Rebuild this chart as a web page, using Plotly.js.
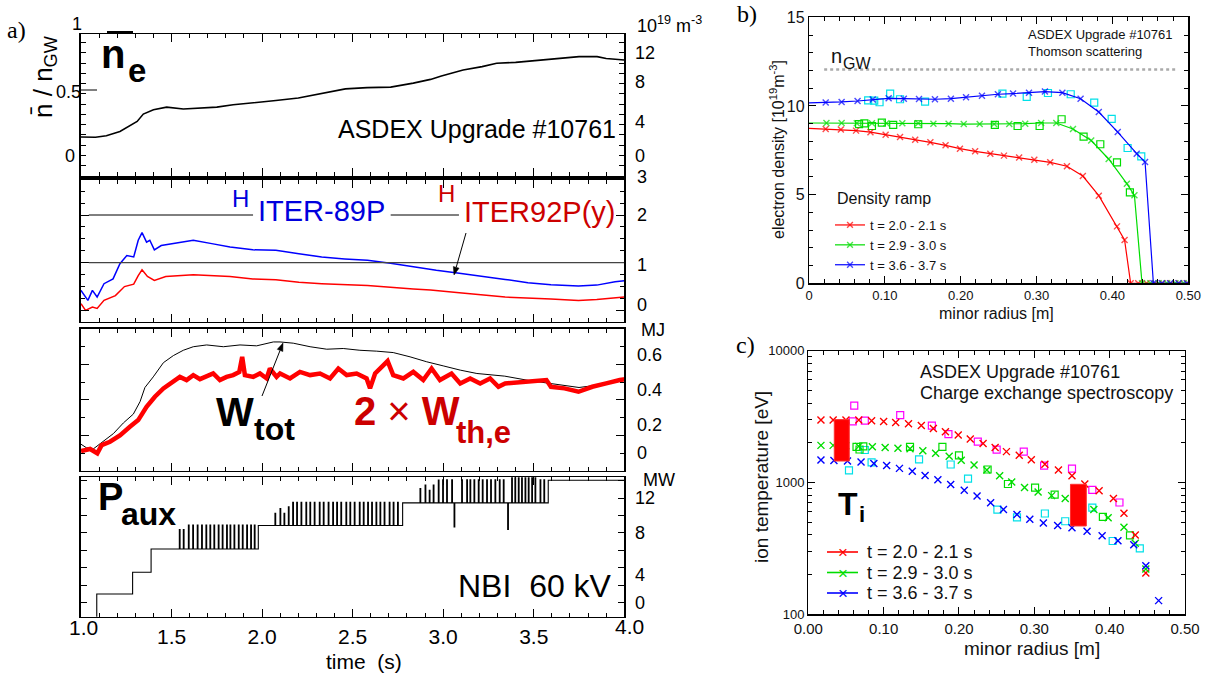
<!DOCTYPE html>
<html><head><meta charset="utf-8">
<script src="https://cdn.plot.ly/plotly-3.0.1.min.js"></script>
<style>html,body{margin:0;padding:0;background:#fff}#chart{width:1215px;height:675px}</style>
</head><body><div id="chart"></div>
<script>
// ================= DATA =================
// Panel a-1: line-averaged density (10^19 m^-3)
const tNe = [1.0, 1.08, 1.14, 1.215, 1.31, 1.344, 1.40, 1.473, 1.565, 1.657, 1.75, 1.84, 1.95, 2.076, 2.20, 2.33, 2.46, 2.58, 2.71, 2.835, 2.93, 2.99, 3.11, 3.215, 3.295, 3.40, 3.48, 3.59, 3.66, 3.75, 3.85, 3.90, 4.0];
const ne  = [2.15, 2.12, 2.3, 2.8, 3.97, 4.83, 5.34, 5.65, 5.42, 5.53, 5.65, 5.92, 6.19, 6.43, 6.71, 7.29, 7.79, 7.94, 7.99, 8.46, 8.9, 9.3, 10.0, 10.4, 10.8, 10.9, 11.06, 11.2, 11.38, 11.57, 11.57, 11.35, 11.18];
// Panel a-2: confinement enhancement factors
const tH89 = [1.0, 1.038, 1.063, 1.089, 1.127, 1.177, 1.215, 1.253, 1.291, 1.316, 1.337, 1.362, 1.38, 1.405, 1.443, 1.519, 1.62, 1.722, 1.823, 1.949, 2.076, 2.203, 2.329, 2.456, 2.582, 2.709, 2.835, 2.962, 3.089, 3.215, 3.342, 3.468, 3.595, 3.747, 3.848, 3.949, 4.0];
const h89  = [0.42, 0.21, 0.42, 0.28, 0.56, 0.66, 0.98, 1.15, 1.12, 1.47, 1.63, 1.43, 1.47, 1.27, 1.36, 1.41, 1.47, 1.40, 1.33, 1.27, 1.26, 1.19, 1.12, 1.08, 1.05, 0.99, 0.91, 0.84, 0.78, 0.72, 0.65, 0.58, 0.54, 0.51, 0.53, 0.60, 0.62];
const tH92 = [1.0, 1.025, 1.063, 1.089, 1.127, 1.19, 1.24, 1.291, 1.316, 1.337, 1.367, 1.405, 1.468, 1.62, 1.823, 1.949, 2.076, 2.203, 2.329, 2.582, 2.835, 2.93, 3.089, 3.342, 3.595, 3.747, 3.848, 4.0];
const h92  = [0.14, 0.0, 0.07, 0.04, 0.21, 0.31, 0.50, 0.55, 0.73, 0.85, 0.71, 0.63, 0.71, 0.75, 0.71, 0.66, 0.64, 0.59, 0.56, 0.52, 0.45, 0.43, 0.37, 0.28, 0.24, 0.21, 0.23, 0.28];
// Panel a-3: stored energies (MJ)
const tWtot = [1.0, 1.03, 1.07, 1.114, 1.179, 1.234, 1.289, 1.326, 1.353, 1.399, 1.455, 1.510, 1.565, 1.620, 1.694, 1.786, 1.878, 1.970, 2.062, 2.099, 2.172, 2.265, 2.357, 2.448, 2.54, 2.633, 2.724, 2.817, 2.909, 3.0, 3.094, 3.186, 3.278, 3.34, 3.47, 3.6, 3.75, 3.9, 4.0];
const wTot  = [0.15, 0.13, 0.125, 0.16, 0.21, 0.27, 0.32, 0.39, 0.47, 0.53, 0.61, 0.65, 0.68, 0.70, 0.71, 0.70, 0.71, 0.705, 0.727, 0.727, 0.72, 0.70, 0.686, 0.69, 0.68, 0.675, 0.667, 0.643, 0.615, 0.592, 0.568, 0.549, 0.54, 0.534, 0.51, 0.49, 0.47, 0.49, 0.51];
const tWth = [1.0, 1.05, 1.09, 1.114, 1.16, 1.215, 1.27, 1.316, 1.362, 1.408, 1.455, 1.51, 1.546, 1.583, 1.62, 1.657, 1.694, 1.73, 1.767, 1.804, 1.84, 1.874, 1.89, 1.905, 1.951, 1.988, 2.025, 2.043, 2.08, 2.099, 2.154, 2.209, 2.265, 2.32, 2.375, 2.421, 2.467, 2.522, 2.577, 2.596, 2.624, 2.693, 2.724, 2.78, 2.835, 2.89, 2.936, 2.982, 3.046, 3.094, 3.149, 3.204, 3.259, 3.305, 3.342, 3.468, 3.57, 3.595, 3.67, 3.747, 3.823, 3.9, 3.975, 4.04];
const wTh2 = [0.112, 0.123, 0.099, 0.145, 0.164, 0.20, 0.248, 0.286, 0.361, 0.418, 0.465, 0.502, 0.53, 0.512, 0.54, 0.517, 0.53, 0.549, 0.512, 0.53, 0.54, 0.558, 0.643, 0.54, 0.53, 0.549, 0.521, 0.577, 0.53, 0.549, 0.521, 0.558, 0.54, 0.549, 0.521, 0.577, 0.54, 0.549, 0.521, 0.465, 0.549, 0.619, 0.54, 0.521, 0.558, 0.512, 0.577, 0.512, 0.549, 0.493, 0.521, 0.493, 0.521, 0.474, 0.493, 0.502, 0.512, 0.474, 0.465, 0.446, 0.474, 0.493, 0.512, 0.521];
// Panel a-4: auxiliary heating power (MW): step levels, modulation pulses, dips
const pStepT = [1.0, 1.087, 1.285, 1.387, 1.979, 2.776, 3.58];
const pStepV = [-2, 1.0, 3.49, 6.16, 8.85, 11.45, 14.05];
const pPulseT = [1.543, 1.565, 1.593, 1.617, 1.642, 1.666, 1.690, 1.712, 1.734, 1.758, 1.780, 1.804, 1.823, 1.845, 1.869, 1.891, 1.915, 1.937, 1.957,
  2.071, 2.099, 2.121, 2.145, 2.169, 2.191, 2.215, 2.242, 2.264, 2.288, 2.316, 2.338, 2.365, 2.390, 2.412, 2.435, 2.463, 2.485, 2.509, 2.537, 2.559, 2.583, 2.605, 2.629, 2.651, 2.674, 2.702, 2.724, 2.748,
  2.872, 2.900, 2.923, 2.945, 2.973, 2.997, 3.019, 3.047, 3.102, 3.130, 3.148, 3.170, 3.194, 3.216, 3.240, 3.262, 3.286, 3.310, 3.332, 3.378, 3.396, 3.415, 3.433, 3.452, 3.470, 3.489, 3.507, 3.535, 3.556];
const pPulseTop = [8.4, 8.4, 8.9, 8.9, 8.9, 8.9, 8.9, 8.9, 8.9, 8.9, 8.9, 8.9, 8.9, 8.9, 8.9, 8.9, 8.9, 8.9, 8.9,
  10.25, 10.8, 10.25, 11.0, 11.5, 11.5, 11.5, 11.5, 11.5, 11.5, 11.5, 11.5, 11.5, 11.5, 11.5, 11.5, 11.5, 11.5, 11.5, 11.5, 11.5, 11.5, 11.5, 11.5, 11.5, 11.5, 11.5, 11.5, 11.5,
  13.1, 13.5, 12.9, 13.5, 14.07, 14.1, 14.1, 14.1, 14.1, 14.1, 14.1, 14.1, 14.1, 14.1, 14.1, 14.1, 14.1, 14.1, 14.1, 14.35, 14.35, 14.35, 14.35, 14.35, 14.35, 14.35, 14.35, 14.1, 14.1];
const pDipT = [3.06, 3.356];
const pDipV = [8.7, 8.4];

// Panel b: Thomson scattering density profiles (10^19 m^-3)
const bRedR = [0, 0.022, 0.042, 0.062, 0.081, 0.101, 0.120, 0.140, 0.160, 0.180, 0.199, 0.219, 0.239, 0.257, 0.277, 0.297, 0.318, 0.340, 0.361, 0.382, 0.406, 0.416, 0.424, 0.434, 0.445, 0.456, 0.466, 0.477, 0.488, 0.499];
const bRedN = [8.74, 8.70, 8.67, 8.61, 8.52, 8.38, 8.25, 8.10, 7.95, 7.78, 7.59, 7.44, 7.31, 7.20, 7.09, 6.97, 6.82, 6.60, 6.05, 4.94, 3.21, 2.44, 0, 0, 0, 0, 0, 0, 0, 0];
const bGreenR = [0, 0.023, 0.043, 0.063, 0.083, 0.102, 0.123, 0.144, 0.164, 0.184, 0.204, 0.225, 0.244, 0.264, 0.285, 0.306, 0.326, 0.348, 0.372, 0.395, 0.419, 0.429, 0.439, 0.45, 0.461, 0.472, 0.483, 0.494];
const bGreenN = [9.04, 9.04, 9.04, 9.02, 9.02, 9.02, 9.02, 9.02, 9.0, 9.0, 8.98, 8.98, 8.98, 8.98, 9.0, 9.04, 9.04, 8.70, 8.05, 7.01, 5.62, 4.96, 0, 0, 0, 0, 0, 0];
const bBlueR = [0, 0.022, 0.043, 0.064, 0.084, 0.105, 0.125, 0.145, 0.166, 0.187, 0.207, 0.228, 0.249, 0.269, 0.290, 0.311, 0.334, 0.358, 0.382, 0.407, 0.432, 0.443, 0.454, 0.465, 0.476, 0.487, 0.498];
const bBlueN = [10.17, 10.19, 10.23, 10.28, 10.36, 10.43, 10.41, 10.39, 10.38, 10.41, 10.49, 10.58, 10.66, 10.70, 10.75, 10.81, 10.75, 10.41, 9.66, 8.53, 7.31, 6.84, 0, 0, 0, 0, 0];
const bCyanR = [0.078, 0.086, 0.093, 0.107, 0.120, 0.153, 0.255, 0.287, 0.315, 0.345, 0.376, 0.399, 0.420, 0.438];
const bCyanN = [10.32, 10.30, 10.21, 10.70, 10.38, 10.24, 10.70, 10.51, 10.73, 10.66, 10.19, 9.27, 7.63, 7.16];
const bGsqR = [0.066, 0.073, 0.083, 0.096, 0.111, 0.144, 0.245, 0.275, 0.304, 0.333, 0.362, 0.384, 0.406, 0.423];
const bGsqN = [8.98, 9.02, 8.87, 9.06, 8.93, 8.97, 8.93, 8.87, 8.87, 9.25, 8.27, 7.84, 6.82, 5.13];
const nGW = 12.05;
const bXTickVals = [0, 0.1, 0.2, 0.3, 0.4, 0.5];
const bXTickText = ['0', '0.10', '0.20', '0.30', '0.40', '0.50'];
const bYTickVals = [0, 5, 10, 15];
const seriesNames = ['t = 2.0 - 2.1 s', 't = 2.9 - 3.0 s', 't = 3.6 - 3.7 s'];

// Panel c: charge exchange ion temperature (eV)
const cRedR = [0.0168, 0.033, 0.050, 0.067, 0.084, 0.100, 0.116, 0.133, 0.150, 0.166, 0.182, 0.199, 0.215, 0.232, 0.248, 0.263, 0.280, 0.296, 0.314, 0.332, 0.350, 0.367, 0.386, 0.405, 0.419, 0.434, 0.448];
const cRedT = [2978, 2978, 2978, 2978, 2940, 2905, 2855, 2790, 2710, 2570, 2425, 2290, 2135, 1980, 1845, 1715, 1610, 1490, 1375, 1245, 1125, 975, 865, 755, 585, 400, 206];
const cGreenR = [0.0168, 0.033, 0.050, 0.067, 0.085, 0.102, 0.119, 0.135, 0.152, 0.169, 0.187, 0.203, 0.220, 0.237, 0.254, 0.270, 0.287, 0.305, 0.323, 0.341, 0.360, 0.379, 0.398, 0.419, 0.434, 0.448];
const cGreenT = [1913, 1913, 1900, 1880, 1865, 1845, 1820, 1805, 1740, 1667, 1580, 1475, 1360, 1245, 1125, 1010, 915, 847, 795, 755, 700, 625, 541, 458, 346, 221];
const cBlueR = [0.0168, 0.034, 0.052, 0.070, 0.087, 0.104, 0.121, 0.138, 0.155, 0.172, 0.189, 0.207, 0.224, 0.242, 0.259, 0.277, 0.294, 0.312, 0.331, 0.350, 0.370, 0.390, 0.411, 0.432, 0.448, 0.465];
const cBlueT = [1483, 1470, 1455, 1430, 1395, 1345, 1280, 1215, 1130, 1050, 965, 873, 790, 702, 625, 571, 526, 493, 471, 454, 426, 394, 362, 337, 234, 127];
const cMagR = [0.061, 0.059, 0.075, 0.122, 0.164, 0.186, 0.225, 0.250, 0.286, 0.313, 0.350, 0.377, 0.413];
const cMagT = [3830, 2912, 2950, 3250, 2700, 2325, 2045, 1775, 1715, 1345, 1275, 880, 705];
const cCyanR = [0.054, 0.075, 0.084, 0.147, 0.189, 0.212, 0.251, 0.277, 0.314, 0.341, 0.377, 0.404, 0.440];
const cCyanT = [1236, 1765, 1422, 1500, 1370, 1070, 622, 544, 582, 508, 645, 360, 316];
const cGsqR = [0.064, 0.068, 0.073, 0.135, 0.178, 0.200, 0.238, 0.265, 0.301, 0.327, 0.391, 0.427];
const cGsqT = [1865, 1780, 1880, 1865, 1865, 1607, 1255, 974, 915, 810, 549, 397];
const cBoxR0 = [0.0345, 0.348];
const cBoxR1 = [0.0544, 0.369];
const cBoxT0 = [1455, 468];
const cBoxT1 = [3000, 969];
const cYTickVals = [100, 1000, 10000];
const cYTickText = ['100', '1000', '10000'];
const cYMinor = [200, 300, 400, 500, 600, 700, 800, 900, 2000, 3000, 4000, 5000, 6000, 7000, 8000, 9000];

// ================= LAYOUT HELPERS =================
const W = 1215, H = 675;
const px = x => x / W, py = y => 1 - y / H;
const SANS = 'Liberation Sans, Arial, Helvetica, sans-serif';
const SERIF = 'Liberation Serif, Times New Roman, serif';
const RED = '#ff0000', GREEN = '#00dd00', BLUE = '#0000ff', CYAN = '#00e0e8', MAG = '#ff00ff';
const TRED = '#cc0000', TBLUE = '#0000dd';
const seriesColors = [RED, GREEN, BLUE];

function ann(text, x, y, size, o) {
  return Object.assign({text: text, x: px(x), y: py(y), xref: 'paper', yref: 'paper', showarrow: false,
    xanchor: 'left', yanchor: 'middle', borderpad: 0,
    font: {family: SANS, size: size, color: (o && o.color) || '#000'}}, o || {});
}
// arrow drawn as shapes (shaft + filled head), pixel tail -> pixel head
function arrowShapes(tx, ty, hx, hy) {
  const dx = hx - tx, dy = hy - ty, L = Math.hypot(dx, dy), ux = dx / L, uy = dy / L;
  const bx = hx - 8 * ux, by = hy - 8 * uy, nx = -uy, ny = ux;
  const pt = (x, y) => px(x) + ',' + py(y);
  return [
    {type: 'line', xref: 'paper', yref: 'paper', x0: px(tx), y0: py(ty), x1: px(bx), y1: py(by), line: {color: '#000', width: 1}},
    {type: 'path', xref: 'paper', yref: 'paper', fillcolor: '#000', line: {color: '#000', width: 0.5},
      path: 'M' + pt(hx, hy) + ' L' + pt(bx + 3 * nx, by + 3 * ny) + ' L' + pt(bx - 3 * nx, by - 3 * ny) + ' Z'}
  ];
}

// Build P_aux trace from steps, pulses and dips
const PW = 0.004;
const pT = [], pV = [];
for (let i = 0; i < pStepT.length; i++) {
  const t0 = pStepT[i], t1 = i + 1 < pStepT.length ? pStepT[i + 1] : 4.0, v = pStepV[i];
  pT.push(t0); pV.push(v);
  const ev = [];
  pPulseT.forEach((t, k) => { if (t > t0 && t < t1) ev.push([t, pPulseTop[k]]); });
  pDipT.forEach((t, k) => { if (t > t0 && t < t1) ev.push([t, pDipV[k]]); });
  ev.sort((a, b) => a[0] - b[0]);
  ev.forEach(e => { pT.push(e[0], e[0], e[0] + PW, e[0] + PW); pV.push(v, e[1], e[1], v); });
  pT.push(t1); pV.push(v);
}

// ================= TRACES =================
const traces = [];
traces.push({x: tNe, y: ne, xaxis: 'x', yaxis: 'y', mode: 'lines', line: {color: '#000', width: 1.6}, showlegend: false});
traces.push({x: tH89, y: h89, xaxis: 'x2', yaxis: 'y2', mode: 'lines', line: {color: BLUE, width: 1.5}, showlegend: false});
traces.push({x: tH92, y: h92, xaxis: 'x2', yaxis: 'y2', mode: 'lines', line: {color: RED, width: 1.5}, showlegend: false});
traces.push({x: tWtot, y: wTot, xaxis: 'x3', yaxis: 'y3', mode: 'lines', line: {color: '#000', width: 1}, showlegend: false});
traces.push({x: tWth, y: wTh2, xaxis: 'x3', yaxis: 'y3', mode: 'lines', line: {color: RED, width: 4.5}, showlegend: false});
traces.push({x: pT, y: pV, xaxis: 'x4', yaxis: 'y4', mode: 'lines', line: {color: '#000', width: 1.1}, showlegend: false});

// panel b
traces.push({x: bGsqR, y: bGsqN, xaxis: 'x5', yaxis: 'y5', mode: 'markers', marker: {symbol: 'square-open', size: 7, color: GREEN, line: {width: 1.2}}, showlegend: false});
traces.push({x: bCyanR, y: bCyanN, xaxis: 'x5', yaxis: 'y5', mode: 'markers', marker: {symbol: 'square-open', size: 7, color: CYAN, line: {width: 1.2}}, showlegend: false});
[[bRedR, bRedN], [bGreenR, bGreenN], [bBlueR, bBlueN]].forEach((s, i) => {
  const c = seriesColors[i];
  traces.push({x: s[0], y: s[1], xaxis: 'x5', yaxis: 'y5', mode: 'lines+markers', name: seriesNames[i], legend: 'legend',
    line: {color: c, width: 1.2},
    marker: {symbol: 'x-thin', size: s[0].map((r, k) => k === 0 ? 0 : 6), color: c, line: {color: c, width: 1.4}}});
});

// panel c
[[cMagR, cMagT, MAG], [cCyanR, cCyanT, CYAN], [cGsqR, cGsqT, GREEN]].forEach(s => {
  traces.push({x: s[0], y: s[1], xaxis: 'x6', yaxis: 'y6', mode: 'markers', showlegend: false,
    marker: {symbol: 'square-open', size: 7, color: s[2], line: {width: 1.2}}});
});
[[cRedR, cRedT], [cGreenR, cGreenT], [cBlueR, cBlueT]].forEach((s, i) => {
  const c = seriesColors[i];
  traces.push({x: s[0], y: s[1], xaxis: 'x6', yaxis: 'y6', mode: 'markers', name: seriesNames[i], showlegend: false,
    marker: {symbol: 'x-thin', size: 7, color: c, line: {color: c, width: 1.4}}});
});

// ================= AXES =================
const tickBase = {showline: true, linecolor: '#000', mirror: 'allticks', ticks: 'inside', tickcolor: '#000', showgrid: false, zeroline: false};
function aX(anchor, show) {
  return Object.assign({}, tickBase, {domain: [px(81), px(624.3)], range: [1, 4], anchor: anchor, linewidth: 1.6,
    tick0: 1, dtick: 0.5, ticklen: 8, tickwidth: 1, minor: {dtick: 0.1, ticklen: 4, ticks: 'inside', tickcolor: '#000'},
    showticklabels: show});
}
function aY(d0, d1, range, dtick, len, minor) {
  const o = Object.assign({}, tickBase, {domain: [py(d0), py(d1)], range: range, side: 'right', linewidth: 1.6,
    tick0: 0, dtick: dtick, ticklen: len, tickwidth: 1, showticklabels: false});
  if (minor) o.minor = {dtick: minor, ticklen: 4, ticks: 'inside', tickcolor: '#000'};
  return o;
}

// manual legend for panel c (lines, marker glyphs, labels)
const cLegRows = [552, 572.5, 593];
const cLegShapes = cLegRows.map((y, i) => ({type: 'line', xref: 'paper', yref: 'paper', x0: px(827), x1: px(858),
  y0: py(y), y1: py(y), line: {color: seriesColors[i], width: 1.6}}));
const cLegAnn = [];
cLegRows.forEach((y, i) => {
  cLegAnn.push(ann('\u00d7', 843, y + 0.5, 17, {xanchor: 'center', font: {family: SANS, size: 17, color: seriesColors[i]}}));
  cLegAnn.push(ann(seriesNames[i], 866, y, 18, {font: {family: SANS, size: 18, color: '#111'}}));
});

const layout = {
  width: W, height: H, margin: {l: 0, r: 0, t: 0, b: 0}, paper_bgcolor: '#fff', plot_bgcolor: 'rgba(0,0,0,0)',
  font: {family: SANS, color: '#000'},
  xaxis: aX('y', false),
  xaxis2: aX('y2', false),
  xaxis3: aX('y3', false),
  xaxis4: Object.assign(aX('y4', true), {tickvals: [1.5, 2, 2.5, 3, 3.5], ticktext: ['1.5', '2.0', '2.5', '3.0', '3.5'],
    tickfont: {family: SANS, size: 21, color: '#000'}}),
  yaxis: aY(176, 34.3, [-2.43, 14.19], 1.2, 5, null),
  yaxis2: aY(321.7, 180, [-0.237, 2.734], 1, 8, 0.25),
  yaxis3: aY(470.8, 329, [0, 0.8], 0.2, 8, 0.1),
  yaxis4: aY(616.7, 477.3, [-1.606, 14.38], 2, 6, null),
  xaxis5: Object.assign({}, tickBase, {domain: [px(809), px(1188.3)], range: [0, 0.5], anchor: 'y5', linewidth: 1.2,
    tickvals: bXTickVals, ticktext: bXTickText, ticklen: 7, minor: {dtick: 0.02, ticklen: 4, ticks: 'inside', tickcolor: '#000'},
    tickfont: {family: SANS, size: 13, color: '#111'}}),
  yaxis5: Object.assign({}, tickBase, {domain: [py(283.3), py(17.3)], range: [0, 15], anchor: 'x5', linewidth: 1.2,
    tickvals: bYTickVals, ticklen: 7, minor: {dtick: 1, ticklen: 4, ticks: 'inside', tickcolor: '#000'},
    tickfont: {family: SANS, size: 16, color: '#111'}}),
  xaxis6: Object.assign({}, tickBase, {domain: [px(808.3), px(1185)], range: [0, 0.5], anchor: 'y6', linewidth: 1.2,
    dtick: 0.1, tickformat: '.2f', ticklen: 7, minor: {dtick: 0.02, ticklen: 4, ticks: 'inside', tickcolor: '#000'},
    tickfont: {family: SANS, size: 15, color: '#111'}}),
  yaxis6: Object.assign({}, tickBase, {type: 'log', domain: [py(614.3), py(350.7)], range: [2, 4], anchor: 'x6', linewidth: 1.2,
    tickvals: cYTickVals, ticktext: cYTickText, ticklen: 7, minor: {tickvals: cYMinor, ticklen: 4, ticks: 'inside', tickcolor: '#000'},
    tickfont: {family: SANS, size: 13, color: '#111'}}),
  showlegend: true,
  legend: {x: px(830), y: py(210), xanchor: 'left', yanchor: 'top', bgcolor: 'rgba(0,0,0,0)', borderwidth: 0,
    itemwidth: 30, tracegroupgap: 0, font: {family: SANS, size: 13, color: '#111'}},
  shapes: [
    // H-factor reference lines
    {type: 'line', xref: 'x2', yref: 'y2', x0: 1.043, x1: 4.0, y0: 1, y1: 1, line: {color: '#444', width: 1.2}},
    {type: 'line', xref: 'x2', yref: 'y2', x0: 1.043, x1: 1.95, y0: 2, y1: 2, line: {color: '#000', width: 1}},
    {type: 'line', xref: 'x2', yref: 'y2', x0: 2.71, x1: 3.087, y0: 2, y1: 2, line: {color: '#000', width: 1}},
    // overbar of n_e and long 0.5 tick
    {type: 'line', xref: 'paper', yref: 'paper', x0: px(107), x1: px(133), y0: py(32.5), y1: py(32.5), line: {color: '#000', width: 3}},
    {type: 'line', xref: 'paper', yref: 'paper', x0: px(81), x1: px(97), y0: py(90), y1: py(90), line: {color: '#000', width: 1}},
    // Greenwald density
    {type: 'line', xref: 'x5', yref: 'y5', x0: 0.02, x1: 0.485, y0: nGW, y1: nGW, line: {color: '#aaaaaa', width: 2.5, dash: 'dot'}}
  ].concat(cBoxR0.map((r0, i) => ({type: 'rect', xref: 'x6', yref: 'y6', layer: 'above',
    x0: r0, x1: cBoxR1[i], y0: cBoxT0[i], y1: cBoxT1[i],
    fillcolor: '#ff0000', line: {color: '#ff3030', width: 1}})))
   .concat(cLegShapes)
   .concat(arrowShapes(466, 233, 454, 275))
   .concat(arrowShapes(262, 396, 283, 343)),
  annotations: [
    ann('a)', 6, 30, 24, {font: {family: SERIF, size: 24, color: '#000'}}),
    ann('b)', 736, 14, 24, {font: {family: SERIF, size: 24, color: '#000'}}),
    ann('c)', 735, 345, 24, {font: {family: SERIF, size: 24, color: '#000'}}),
    // sub1
    ann('n\u0304 / n<sub>GW</sub>', 44, 77, 26, {textangle: -90, xanchor: 'center'}),
    ann('1', 77, 24, 18, {xanchor: 'center'}),
    ann('0.5', 82, 92, 18, {xanchor: 'right'}),
    ann('0', 70, 156, 18, {xanchor: 'center'}),
    ann('<b>n</b>', 100, 54, 40),
    ann('<b>e</b>', 127, 70.5, 33),
    ann('ASDEX Upgrade #10761', 617, 129, 25, {xanchor: 'right'}),
    ann('10<sup>19</sup> m<sup>-3</sup>', 636, 24, 18),
    ann('12', 634, 53, 18), ann('8', 634, 81.7, 18), ann('4', 634, 121.7, 18), ann('0', 634, 155.7, 18),
    // sub2
    ann('3', 636, 176.7, 18), ann('2', 636, 215, 18), ann('1', 636, 265, 18), ann('0', 636, 305, 18),
    ann('H', 240, 198, 24, {xanchor: 'center', font: {family: SANS, size: 24, color: TBLUE}}),
    ann('ITER-89P', 257, 211, 29, {font: {family: SANS, size: 29, color: TBLUE}}),
    ann('H', 446, 193.5, 24, {xanchor: 'center', font: {family: SANS, size: 24, color: TRED}}),
    ann('ITER92P(y)', 463, 212, 29, {font: {family: SANS, size: 29, color: TRED}}),
    // sub3
    ann('MJ', 640, 329.5, 18),
    ann('0.6', 636, 354.5, 18), ann('0.4', 636, 390, 18), ann('0.2', 636, 425, 18), ann('0', 636, 453.3, 18),
    ann('<b>W</b>', 215, 412, 40),
    ann('<b>tot</b>', 253, 429, 32),
    ann('<b>2</b> \u00d7 <b>W</b>', 353, 411, 40, {font: {family: SANS, size: 40, color: TRED}}),
    ann('<b>th,e</b>', 455, 433, 31, {font: {family: SANS, size: 31, color: TRED}}),
    // sub4
    ann('MW', 642, 480, 18),
    ann('12', 634, 498, 18), ann('8', 634, 533, 18), ann('4', 634, 575, 18), ann('0', 634, 603, 18),
    ann('<b>P</b>', 97, 497, 38),
    ann('<b>aux</b>', 120, 514, 32),
    ann('NBI\u00a0\u00a060 kV', 613, 586, 32, {xanchor: 'right'}),
    ann('1.0', 84, 627, 21, {xanchor: 'center'}),
    ann('4.0', 629, 626, 21, {xanchor: 'center'}),
    ann('time\u00a0\u00a0(s)', 364, 661, 21, {xanchor: 'center'}),
    // panel b
    ann('electron density [10<sup>19</sup>m<sup>-3</sup>]', 777, 150, 16, {textangle: -90, xanchor: 'center', font: {family: SANS, size: 16, color: '#111'}}),
    ann('minor radius [m]', 997, 313, 16, {xanchor: 'center', font: {family: SANS, size: 16, color: '#111'}}),
    ann('n', 830, 56, 20, {font: {family: SANS, size: 20, color: '#111'}}),
    ann('GW', 842, 63.5, 16, {font: {family: SANS, size: 16, color: '#111'}}),
    ann('ASDEX Upgrade #10761', 1027, 35, 13, {font: {family: SANS, size: 13, color: '#111'}}),
    ann('Thomson scattering', 1027, 51, 13, {font: {family: SANS, size: 13, color: '#111'}}),
    ann('Density ramp', 836, 198, 16, {font: {family: SANS, size: 16, color: '#111'}}),
    // panel c
    ann('ion temperature [eV]', 761, 477, 19, {textangle: -90, xanchor: 'center', font: {family: SANS, size: 19, color: '#111'}}),
    ann('minor radius [m]', 1032, 648, 19, {xanchor: 'center', font: {family: SANS, size: 19, color: '#111'}}),
    ann('ASDEX Upgrade #10761', 919, 372, 18, {font: {family: SANS, size: 18, color: '#111'}}),
    ann('Charge exchange spectroscopy', 919, 393, 18, {font: {family: SANS, size: 18, color: '#111'}}),
    ann('<b>T</b>', 837, 504, 32),
    ann('<b>i</b>', 858, 514, 22)
  ].concat(cLegAnn)
};
Plotly.newPlot('chart', traces, layout, {displayModeBar: false, staticPlot: true});
</script>
</body></html>
